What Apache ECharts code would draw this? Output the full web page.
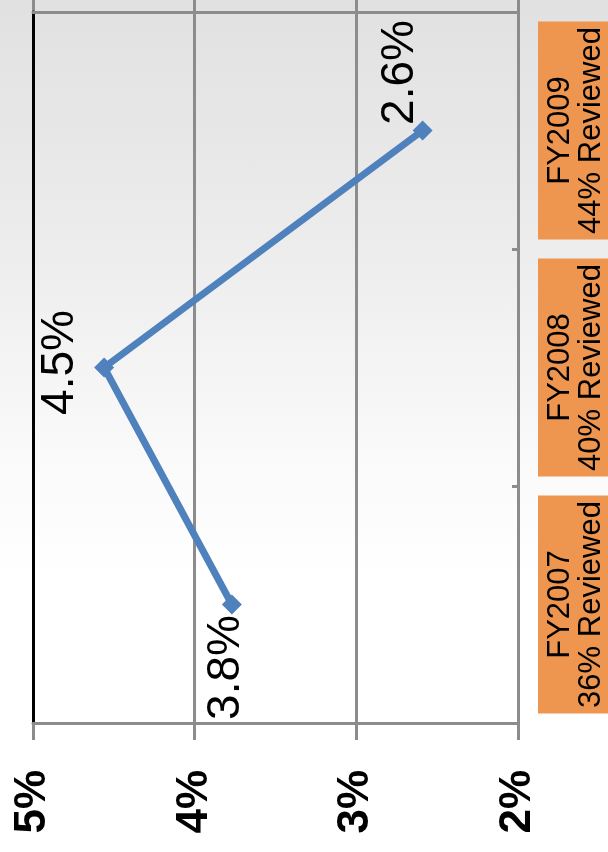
<!DOCTYPE html>
<html>
<head>
<meta charset="utf-8">
<script src="https://cdn.jsdelivr.net/npm/echarts@6/dist/echarts.min.js"></script>
<style>
html,body{margin:0;padding:0;}
body{width:608px;height:852px;background:linear-gradient(180deg,#e1e1e1 0%,#ececec 28%,#f9f9f9 52%,#ffffff 68%,#ffffff 100%);}
#chart{width:608px;height:852px;}
</style>
</head>
<body>
<div id="chart"></div>
<script>
// Data
var categories = ['FY2007', 'FY2008', 'FY2009'];
var reviewed = ['36% Reviewed', '40% Reviewed', '44% Reviewed'];
var rates = [3.77, 4.56, 2.59];
var rateLabels = ['3.8%', '4.5%', '2.6%'];
var valueTicks = [2, 3, 4, 5];

// label offsets in the label's rotated frame
var labelOffsets = [[-63, -6], [5, -44], [58, -22]];
var font = 'Liberation Sans, Arial, sans-serif';
var gridColor = '#8c8c8c';

var chart = echarts.init(document.getElementById('chart'), null, {renderer: 'canvas'});

var seriesData = rates.map(function (v, i) {
  return {
    value: v,
    label: {
      show: true,
      position: 'inside',
      rotate: 90,
      align: 'center',
      verticalAlign: 'middle',
      offset: labelOffsets[i],
      formatter: rateLabels[i],
      fontSize: 46,
      fontFamily: font,
      color: '#000'
    }
  };
});

chart.setOption({
  backgroundColor: 'transparent',
  animation: false,
  grid: [
    {left: 33, right: 90, top: 12, bottom: 129, containLabel: false, outerBoundsMode: 'none'},
    {left: 33, right: 90, top: 0, height: 12, containLabel: false, outerBoundsMode: 'none'}
  ],
  xAxis: [
    {
      type: 'value', gridIndex: 0, inverse: true,
      min: valueTicks[0], max: valueTicks[valueTicks.length - 1], interval: 1,
      position: 'bottom',
      axisLine: {show: true, lineStyle: {color: gridColor, width: 3}},
      axisTick: {show: true, length: 17, lineStyle: {color: gridColor, width: 3}},
      axisLabel: {
        rotate: 90, margin: 47, fontSize: 44, fontWeight: 'bold',
        fontFamily: font, color: '#000', formatter: '{value}%'
      },
      splitLine: {show: true, lineStyle: {color: gridColor, width: 3}}
    },
    {
      type: 'value', gridIndex: 0, inverse: true,
      min: valueTicks[0], max: valueTicks[valueTicks.length - 1], interval: 1,
      position: 'top',
      axisLine: {show: true, onZero: false, lineStyle: {color: gridColor, width: 3}},
      axisTick: {show: false}, axisLabel: {show: false}, splitLine: {show: false}
    },
    {
      type: 'value', gridIndex: 1, inverse: true,
      min: valueTicks[0], max: valueTicks[valueTicks.length - 1], interval: 1,
      axisLine: {show: false}, axisTick: {show: false}, axisLabel: {show: false},
      splitLine: {show: true, lineStyle: {color: gridColor, width: 3}}
    }
  ],
  yAxis: [
    {
      type: 'category', gridIndex: 0, data: categories, position: 'right',
      boundaryGap: true,
      axisLine: {show: true, onZero: false, lineStyle: {color: gridColor, width: 3}},
      axisTick: {show: true, inside: true, length: 6, lineStyle: {color: gridColor, width: 3}},
      axisLabel: {
        interval: 0, rotate: 90, margin: 20,
        align: 'center', verticalAlign: 'top',
        formatter: function (v, i) { return v + '\n' + reviewed[i]; },
        fontSize: 31, lineHeight: 31, fontFamily: font, color: '#000',
        backgroundColor: '#EE964F', width: 218, padding: [7, 0, 20, 0]
      },
      splitLine: {show: false}
    },
    {
      type: 'category', gridIndex: 0, data: categories, position: 'left',
      axisLine: {show: true, onZero: false, lineStyle: {color: '#000', width: 3}},
      axisTick: {show: false}, axisLabel: {show: false}, splitLine: {show: false}
    },
    {
      type: 'category', gridIndex: 1, data: categories,
      axisLine: {show: false}, axisTick: {show: false}, axisLabel: {show: false}, splitLine: {show: false}
    }
  ],
  series: [
    {
      type: 'line', xAxisIndex: 0, yAxisIndex: 0,
      data: seriesData,
      symbol: 'diamond', symbolSize: 20,
      lineStyle: {color: '#4F81BD', width: 7},
      itemStyle: {color: '#4F81BD'},
      z: 5
    }
  ]
});
</script>
</body>
</html>
